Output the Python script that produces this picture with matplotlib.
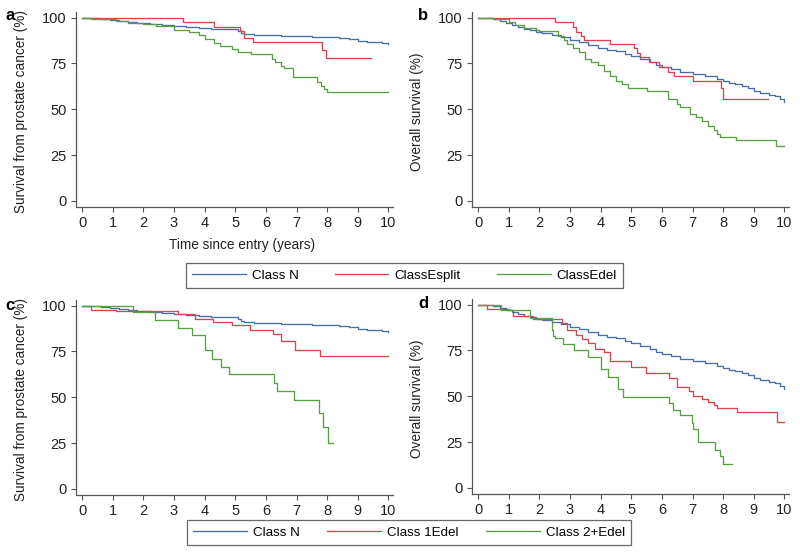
import matplotlib
matplotlib.use("Agg")
import matplotlib.pyplot as plt
from matplotlib.lines import Line2D

plt.rcParams['font.family'] = ['Liberation Sans', 'DejaVu Sans']

# ---------------- data ----------------
# Class N, prostate-cancer specific survival (panels a, c)
n_css_t = [0, 0.3, 0.6, 0.9, 1.2, 1.5, 1.8, 2.2, 2.6, 3.0, 3.4, 3.8, 4.2, 4.8, 5.1, 5.2, 5.3,
           5.6, 6.0, 6.5, 7.0, 7.5, 8.0, 8.4, 8.7, 9.0, 9.3, 9.8, 10.0]
n_css_v = [100, 99.5, 99, 98.5, 98, 97.5, 97, 96.5, 96, 95.5, 95, 94.5, 94, 93.5, 92.5, 91.5, 91,
           90.5, 90.3, 90, 89.8, 89.6, 89.4, 89, 88.2, 87.2, 86.6, 86, 85.5]
# Class N, overall survival (panels b, d)
n_os_t = [0, 0.5, 0.7, 0.9, 1.1, 1.3, 1.5, 1.7, 1.9, 2.1, 2.4, 2.7, 3.0, 3.3, 3.6, 3.9, 4.2, 4.5,
          4.8, 5.0, 5.3, 5.6, 5.8, 6.0, 6.3, 6.6, 7.0, 7.4, 7.8, 8.0, 8.2, 8.4, 8.6, 8.8, 9.0,
          9.2, 9.5, 9.7, 9.85, 10.0]
n_os_v = [100, 99, 98, 97, 96, 95, 94, 93, 92.3, 91.5, 90.5, 89.5, 88, 86.5, 85, 83.5, 82.5, 81.5,
          80, 79, 77.5, 76, 74, 73, 72, 70.5, 69, 68, 66.5, 65.5, 64.5, 63.5, 62.5, 61.5, 60,
          59, 57.5, 57, 55.5, 54]

# Panel a
a_esplit_t = [0, 3.3, 4.3, 5.17, 5.3, 5.58, 7.84, 7.95, 9.42]
a_esplit_v = [100, 97.5, 94.7, 92.5, 89, 86.4, 82.2, 77.9, 77.9]
a_edel_t = [0, 0.3, 1.1, 1.5, 2.0, 2.4, 3.0, 3.5, 3.8, 4.0, 4.3, 4.5, 4.9, 5.1, 5.5, 6.2, 6.3,
            6.5, 6.6, 6.9, 7.68, 7.8, 7.9, 8.0, 10.0]
a_edel_v = [100, 99, 98, 97, 96.5, 95.5, 93.1, 92, 90.6, 88.2, 85.9, 84.5, 82.8, 81.3, 80.1, 77.2,
            75.5, 73.6, 72.3, 67.4, 64.7, 62.9, 61, 59.6, 59.6]

# Panel b
b_esplit_t = [0, 2.5, 3.1, 3.2, 3.35, 3.45, 4.3, 5.1, 5.2, 5.3, 5.59, 5.9, 6.2, 6.4, 7.0, 7.93,
              8.0, 9.45]
b_esplit_v = [100, 97.5, 94.9, 92, 90, 87.7, 85.5, 83.2, 80.4, 78.3, 75.5, 73.2, 70.5, 67.9,
              65.6, 61.6, 55.6, 55.6]
b_edel_t = [0, 0.5, 1.0, 1.2, 1.5, 1.9, 2.0, 2.6, 2.8, 2.9, 3.1, 3.3, 3.5, 3.7, 3.9, 4.1, 4.3,
            4.5, 4.7, 4.9, 5.5, 6.19, 6.5, 6.6, 6.93, 7.1, 7.3, 7.5, 7.7, 7.8, 7.9, 8.42, 9.73,
            10.0]
b_edel_v = [100, 99, 97.5, 96, 94.5, 93, 92.5, 90, 88, 85.5, 83.5, 81, 77.5, 75.5, 74, 71, 68.3,
            65.5, 64, 61.6, 59.8, 55.5, 53, 51.1, 47.5, 45.5, 43.5, 41.1, 38.5, 36.5, 35.1, 33.3,
            29.7, 29.7]

# Panel c
c_1edel_t = [0, 0.28, 1.09, 3.14, 3.68, 4.28, 4.88, 5.48, 6.22, 6.5, 6.95, 7.77, 10.0]
c_1edel_v = [100, 97.8, 96.9, 95.5, 92.8, 91, 89.3, 86.8, 84.6, 80.7, 75.6, 72.5, 72.5]
c_2edel_t = [0, 1.67, 2.39, 3.14, 3.6, 4.0, 4.25, 4.53, 4.79, 6.26, 6.35, 6.92, 7.73, 7.88, 8.02,
             8.2]
c_2edel_v = [100, 96.7, 92.2, 87.9, 83.7, 75.6, 71.1, 66.5, 62.4, 57.9, 53.5, 48.5, 41.6, 33.5,
             25, 25]

# Panel d
d_1edel_t = [0, 0.3, 1.0, 1.14, 1.8, 2.75, 2.9, 3.2, 3.4, 3.6, 3.8, 4.1, 4.3, 4.99, 5.48, 6.24,
             6.5, 6.9, 7.0, 7.3, 7.5, 7.7, 7.8, 8.46, 9.75, 10.0]
d_1edel_v = [100, 97.8, 97, 93.7, 92, 89.7, 86, 83.5, 81.2, 79, 76, 73.9, 69.2, 65.8, 62.5, 59.8,
             55.3, 53, 50.2, 48.5, 47, 45.3, 43.5, 41.3, 36.2, 36.2]
d_2edel_t = [0, 0.76, 1.69, 2.4, 2.45, 2.5, 2.78, 3.13, 3.6, 4.0, 4.25, 4.57, 4.74, 6.24, 6.35,
             6.59, 6.97, 7.0, 7.19, 7.73, 7.9, 8.0, 8.28]
d_2edel_v = [100, 96.9, 92.4, 86, 83, 81.5, 78.4, 75.2, 71.2, 64.9, 60.7, 54, 49.8, 46.2, 42.6,
             39.5, 35.3, 32.1, 25, 20.8, 17.2, 13, 13]

legend_top = ["Class N", "ClassEsplit", "ClassEdel"]
legend_bottom = ["Class N", "Class 1Edel", "Class 2+Edel"]
x_ticks = list(range(0, 11))
y_ticks = [0, 25, 50, 75, 100]

BLUE = "#4a6ea6"
RED = "#d9454f"
GREEN = "#5a9e45"
AXC = "#555555"

# ---------------- figure ----------------
fig = plt.figure(figsize=(8, 5.6), dpi=100)
W, H = 800, 560


def make_ax(left, top, right, bottom):
    return fig.add_axes([left / W, 1 - bottom / H, (right - left) / W, (bottom - top) / H])


def style(ax, ylabel, xlabel=None):
    ax.set_xlim(-0.2, 10.15)
    ax.set_ylim(-3.3, 103)
    ax.set_xticks(x_ticks)
    ax.set_yticks(y_ticks)
    for s in ["top", "right"]:
        ax.spines[s].set_visible(False)
    for s in ["left", "bottom"]:
        ax.spines[s].set_color(AXC)
        ax.spines[s].set_linewidth(0.9)
    ax.tick_params(direction="out", length=3.8, width=0.8, color=AXC, labelsize=10.5,
                   labelcolor="#222222", pad=3)
    ax.set_ylabel(ylabel, fontsize=9.8, color="#222222", labelpad=4)
    ax.yaxis.set_label_coords(-0.15, 0.49)
    if xlabel:
        ax.set_xlabel(xlabel, fontsize=9.8, color="#222222", labelpad=6)
        ax.xaxis.set_label_coords(0.524, -0.16)
    ax.patch.set_alpha(0)


def km(ax, t, v, c):
    ax.step(t, v, where="post", color=c, lw=0.95)


axa = make_ax(76, 12, 393, 207)
axb = make_ax(472, 12, 789, 207)
axc = make_ax(76, 300, 393, 495)
axd = make_ax(472, 299, 789, 494)

km(axa, n_css_t, n_css_v, BLUE)
km(axa, a_esplit_t, a_esplit_v, RED)
km(axa, a_edel_t, a_edel_v, GREEN)
style(axa, "Survival from prostate cancer (%)", "Time since entry (years)")

km(axb, n_os_t, n_os_v, BLUE)
km(axb, b_esplit_t, b_esplit_v, RED)
km(axb, b_edel_t, b_edel_v, GREEN)
style(axb, "Overall survival (%)")

km(axc, n_css_t, n_css_v, BLUE)
km(axc, c_1edel_t, c_1edel_v, RED)
km(axc, c_2edel_t, c_2edel_v, GREEN)
style(axc, "Survival from prostate cancer (%)")

km(axd, n_os_t, n_os_v, BLUE)
km(axd, d_1edel_t, d_1edel_v, RED)
km(axd, d_2edel_t, d_2edel_v, GREEN)
style(axd, "Overall survival (%)")

for lab, x, y in [("a", 5, 15), ("b", 418, 15), ("c", 5, 305), ("d", 418, 303)]:
    fig.text(x / W, 1 - y / H, lab, fontsize=12, fontweight="bold", ha="left", va="center")

handles = [Line2D([], [], color=c, lw=0.95) for c in (BLUE, RED, GREEN)]


def add_legend(labels, cx, cy, colsp):
    leg = fig.legend(handles, labels, loc="center", bbox_to_anchor=(cx / W, 1 - cy / H),
                     ncol=3, fontsize=9.6, frameon=True, fancybox=False, handlelength=4.0,
                     handletextpad=0.45, columnspacing=colsp, borderpad=0.5)
    leg.get_frame().set_edgecolor("#444444")
    leg.get_frame().set_linewidth(0.9)
    return leg


add_legend(legend_top, 404.5, 275.5, 2.75)
add_legend(legend_bottom, 409, 532.5, 2.1)

fig.savefig("out.png", dpi=100)
